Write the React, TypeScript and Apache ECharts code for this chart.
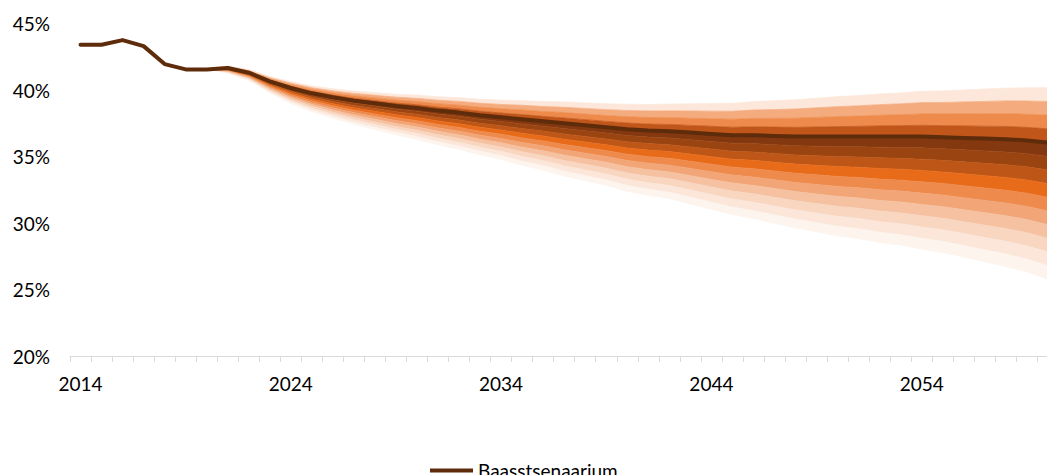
import React, { useEffect, useRef } from "react";
import * as echarts from "echarts";

const years = [
  "2014", "2015", "2016", "2017", "2018", "2019", "2020", "2021", "2022", "2023",
  "2024", "2025", "2026", "2027", "2028", "2029", "2030", "2031", "2032", "2033",
  "2034", "2035", "2036", "2037", "2038", "2039", "2040", "2041", "2042", "2043",
  "2044", "2045", "2046", "2047", "2048", "2049", "2050", "2051", "2052", "2053",
  "2054", "2055", "2056", "2057", "2058", "2059", "2060",
];

// Baasstsenaarium (2014-2060)
const baseline = [
  43.4, 43.4, 43.75, 43.3, 41.95, 41.55, 41.55, 41.65, 41.3, 40.65,
  40.15, 39.75, 39.45, 39.2, 39.0, 38.8, 38.65, 38.45, 38.3, 38.1,
  37.95, 37.8, 37.65, 37.5, 37.35, 37.2, 37.05, 36.95, 36.9, 36.8,
  36.7, 36.6, 36.6, 36.55, 36.5, 36.5, 36.5, 36.5, 36.5, 36.5,
  36.5, 36.45, 36.4, 36.35, 36.3, 36.2, 36.05,
];

// Fan boundaries, 2020-2060
const fanStartIndex = 6;
const upper4 = [41.55, 41.81, 41.54, 41.01, 40.63, 40.31, 40.09, 39.92, 39.80, 39.68, 39.61, 39.49, 39.42, 39.30, 39.23, 39.20, 39.13, 39.10, 39.03, 38.96, 38.93, 38.91, 38.94, 38.96, 38.98, 39.00, 39.12, 39.19, 39.26, 39.38, 39.50, 39.58, 39.70, 39.78, 39.90, 39.93, 40.00, 40.07, 40.14, 40.16, 40.17];
const upper3 = [41.55, 41.77, 41.48, 40.92, 40.51, 40.17, 39.93, 39.74, 39.60, 39.46, 39.37, 39.23, 39.14, 39.00, 38.91, 38.85, 38.76, 38.70, 38.61, 38.52, 38.46, 38.42, 38.43, 38.42, 38.41, 38.40, 38.49, 38.53, 38.57, 38.66, 38.75, 38.81, 38.90, 38.96, 39.05, 39.06, 39.10, 39.14, 39.18, 39.17, 39.14];
const upper2 = [41.55, 41.73, 41.42, 40.83, 40.39, 40.03, 39.77, 39.56, 39.40, 39.24, 39.13, 38.97, 38.86, 38.70, 38.59, 38.50, 38.39, 38.30, 38.19, 38.08, 37.99, 37.93, 37.92, 37.88, 37.84, 37.80, 37.86, 37.87, 37.88, 37.94, 38.00, 38.04, 38.10, 38.14, 38.20, 38.19, 38.20, 38.21, 38.22, 38.18, 38.11];
const upper1 = [41.55, 41.69, 41.36, 40.74, 40.27, 39.89, 39.61, 39.38, 39.20, 39.02, 38.89, 38.71, 38.58, 38.40, 38.27, 38.15, 38.02, 37.90, 37.77, 37.64, 37.52, 37.44, 37.41, 37.34, 37.27, 37.20, 37.23, 37.21, 37.19, 37.22, 37.25, 37.27, 37.30, 37.32, 37.35, 37.32, 37.30, 37.28, 37.26, 37.19, 37.08];
const lower1 = [41.55, 41.61, 41.24, 40.56, 40.03, 39.61, 39.29, 39.02, 38.80, 38.58, 38.41, 38.19, 38.02, 37.80, 37.63, 37.45, 37.28, 37.10, 36.93, 36.76, 36.58, 36.46, 36.39, 36.26, 36.13, 36.00, 35.97, 35.89, 35.81, 35.78, 35.75, 35.73, 35.70, 35.68, 35.65, 35.58, 35.50, 35.42, 35.34, 35.21, 35.02];
const lower2 = [41.55, 41.57, 41.18, 40.47, 39.91, 39.47, 39.13, 38.84, 38.60, 38.36, 38.17, 37.93, 37.74, 37.50, 37.31, 37.10, 36.91, 36.70, 36.51, 36.32, 36.11, 35.97, 35.88, 35.72, 35.56, 35.40, 35.34, 35.23, 35.12, 35.06, 35.00, 34.96, 34.90, 34.86, 34.80, 34.71, 34.60, 34.49, 34.38, 34.22, 33.99];
const lower3 = [41.55, 41.53, 41.12, 40.38, 39.79, 39.33, 38.97, 38.66, 38.40, 38.14, 37.93, 37.67, 37.46, 37.20, 36.99, 36.75, 36.54, 36.30, 36.09, 35.88, 35.64, 35.48, 35.37, 35.18, 34.99, 34.80, 34.71, 34.57, 34.43, 34.34, 34.25, 34.19, 34.10, 34.04, 33.95, 33.84, 33.70, 33.56, 33.42, 33.23, 32.96];
const lower4 = [41.55, 41.49, 41.06, 40.29, 39.67, 39.19, 38.81, 38.48, 38.20, 37.92, 37.69, 37.41, 37.18, 36.90, 36.67, 36.40, 36.17, 35.90, 35.67, 35.44, 35.17, 34.99, 34.86, 34.64, 34.42, 34.20, 34.08, 33.91, 33.74, 33.62, 33.50, 33.42, 33.30, 33.22, 33.10, 32.97, 32.80, 32.63, 32.46, 32.24, 31.93];
const lower5 = [41.55, 41.45, 41.00, 40.20, 39.55, 39.05, 38.65, 38.30, 38.00, 37.70, 37.45, 37.15, 36.90, 36.60, 36.35, 36.05, 35.80, 35.50, 35.25, 35.00, 34.70, 34.50, 34.35, 34.10, 33.85, 33.60, 33.45, 33.25, 33.05, 32.90, 32.75, 32.65, 32.50, 32.40, 32.25, 32.10, 31.90, 31.70, 31.50, 31.25, 30.90];
const lower6 = [41.55, 41.41, 40.94, 40.11, 39.43, 38.91, 38.49, 38.12, 37.80, 37.48, 37.21, 36.89, 36.62, 36.30, 36.03, 35.70, 35.43, 35.10, 34.83, 34.56, 34.23, 34.01, 33.84, 33.56, 33.28, 33.00, 32.82, 32.59, 32.36, 32.18, 32.00, 31.88, 31.70, 31.58, 31.40, 31.23, 31.00, 30.77, 30.54, 30.26, 29.87];
const lower7 = [41.55, 41.37, 40.88, 40.02, 39.31, 38.77, 38.33, 37.94, 37.60, 37.26, 36.97, 36.63, 36.34, 36.00, 35.71, 35.35, 35.06, 34.70, 34.41, 34.12, 33.76, 33.52, 33.33, 33.02, 32.71, 32.40, 32.19, 31.93, 31.67, 31.46, 31.25, 31.11, 30.90, 30.76, 30.55, 30.36, 30.10, 29.84, 29.58, 29.27, 28.84];
const lower8 = [41.55, 41.33, 40.82, 39.93, 39.19, 38.63, 38.17, 37.76, 37.40, 37.04, 36.73, 36.37, 36.06, 35.70, 35.39, 35.00, 34.69, 34.30, 33.99, 33.68, 33.29, 33.03, 32.82, 32.48, 32.14, 31.80, 31.56, 31.27, 30.98, 30.74, 30.50, 30.34, 30.10, 29.94, 29.70, 29.49, 29.20, 28.91, 28.62, 28.28, 27.81];
const lower9 = [41.55, 41.29, 40.76, 39.84, 39.07, 38.49, 38.01, 37.58, 37.20, 36.82, 36.49, 36.11, 35.78, 35.40, 35.07, 34.65, 34.32, 33.90, 33.57, 33.24, 32.82, 32.54, 32.31, 31.94, 31.57, 31.20, 30.93, 30.61, 30.29, 30.02, 29.75, 29.57, 29.30, 29.12, 28.85, 28.62, 28.30, 27.98, 27.66, 27.29, 26.78];
const lower10 = [41.55, 41.25, 40.70, 39.75, 38.95, 38.35, 37.85, 37.40, 37.00, 36.60, 36.25, 35.85, 35.50, 35.10, 34.75, 34.30, 33.95, 33.50, 33.15, 32.80, 32.35, 32.05, 31.80, 31.40, 31.00, 30.60, 30.30, 29.95, 29.60, 29.30, 29.00, 28.80, 28.50, 28.30, 28.00, 27.75, 27.40, 27.05, 26.70, 26.30, 25.75];

// band colours, bottom to top
const bandColors = [
  "#fdf4ee", "#fbe6d9", "#f8d6c0", "#f5c1a0", "#f2a576", "#ee8a4c", "#e86b1a",
  "#bd5616", "#9a4411", "#833810", "#c0561a", "#ee8b4c", "#f4ab7e", "#fde7da",
];

const yTicks = { min: 20, max: 45, interval: 5 };
const FONT = "Lato";

export default function App() {
  const ref = useRef<HTMLDivElement>(null);
  useEffect(() => {
    if (!ref.current) return;
    const chart = echarts.init(ref.current, null, { renderer: "svg" });
    const medianFan = baseline.slice(fanStartIndex);
    const bounds = [
      lower10, lower9, lower8, lower7, lower6, lower5, lower4, lower3, lower2, lower1,
      medianFan, upper1, upper2, upper3, upper4,
    ];
    const pad = (arr: (number | null)[]) => {
      const out: (number | null)[] = [];
      for (let i = 0; i < fanStartIndex; i++) out.push(null);
      return out.concat(arr);
    };
    const series: any[] = [
      {
        type: "line",
        stack: "fan",
        data: pad(lower10),
        symbol: "none",
        silent: true,
        lineStyle: { opacity: 0, width: 0 },
        z: 2,
      },
    ];
    for (let b = 1; b < bounds.length; b++) {
      const diff = bounds[b].map((v, j) => +(v - bounds[b - 1][j]).toFixed(4));
      series.push({
        type: "line",
        stack: "fan",
        data: pad(diff),
        symbol: "none",
        silent: true,
        lineStyle: { width: 0.8, color: bandColors[b - 1] },
        areaStyle: { color: bandColors[b - 1], opacity: 1 },
        z: 2,
      });
    }
    series.push({
      type: "line",
      name: "Baasstsenaarium",
      data: baseline,
      symbol: "none",
      silent: true,
      itemStyle: { color: "#5e2b0b" },
      lineStyle: { color: "#5e2b0b", width: 4, cap: "round", join: "round" },
      z: 5,
    });

    chart.setOption({
      animation: false,
      grid: { left: 70, right: 11.6, top: 23.5, bottom: 134, containLabel: false, outerBoundsMode: "none" },
      legend: {
        data: [{ name: "Baasstsenaarium", icon: "rect" }],
        left: 425,
        top: 456,
        itemWidth: 43,
        itemHeight: 4,
        textStyle: { fontFamily: FONT, fontSize: 19, color: "#000" },
      },
      xAxis: {
        type: "category",
        data: years,
        boundaryGap: true,
        axisLine: { show: true, lineStyle: { color: "#d9d9d9", width: 1 } },
        axisTick: { show: true, interval: 0, length: 6, lineStyle: { color: "#d9d9d9" } },
        axisLabel: { interval: 9, fontFamily: FONT, fontSize: 19, color: "#000", margin: 18 },
        splitLine: { show: false },
      },
      yAxis: {
        type: "value",
        min: yTicks.min,
        max: yTicks.max,
        interval: yTicks.interval,
        axisLine: { show: false },
        axisTick: { show: false },
        splitLine: { show: false },
        axisLabel: { formatter: "{value}%", fontFamily: FONT, fontSize: 19, color: "#000", margin: 20 },
      },
      series,
    });
    return () => chart.dispose();
  }, []);
  return (
    <div style={{ position: "fixed", left: 0, top: 0, width: 1047, height: 475, overflow: "hidden", background: "#fff" }}>
      <div ref={ref} style={{ width: 1070, height: 490 }} />
    </div>
  );
}
